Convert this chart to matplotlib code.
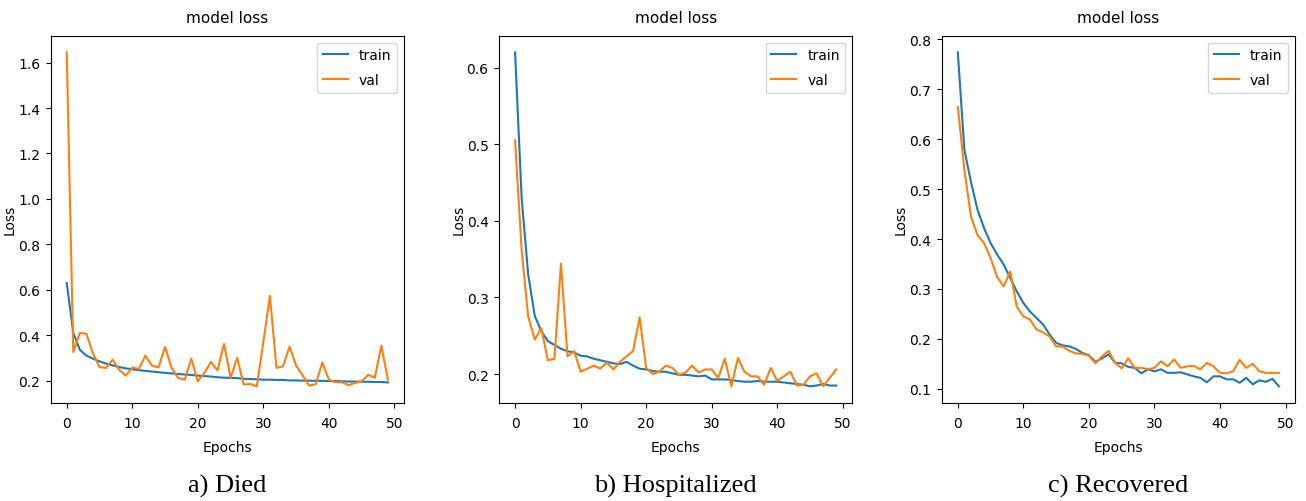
import matplotlib
matplotlib.use('Agg')
from matplotlib import pyplot as plt
import numpy as np

epochs = np.arange(50)

died_train = [0.63, 0.41, 0.336, 0.31, 0.297, 0.285, 0.275, 0.267, 0.26, 0.254,
              0.25, 0.246, 0.243, 0.24, 0.237, 0.234, 0.232, 0.229, 0.227, 0.225,
              0.222, 0.22, 0.218, 0.215, 0.213, 0.212, 0.211, 0.208, 0.207, 0.206,
              0.204, 0.204, 0.203, 0.203, 0.201, 0.201, 0.2, 0.2, 0.199, 0.199,
              0.198, 0.198, 0.197, 0.196, 0.196, 0.195, 0.195, 0.194, 0.194, 0.192]
died_val = [1.645, 0.326, 0.41, 0.406, 0.32, 0.26, 0.256, 0.292, 0.248, 0.222,
            0.258, 0.251, 0.31, 0.266, 0.258, 0.348, 0.256, 0.212, 0.204, 0.297,
            0.197, 0.234, 0.282, 0.245, 0.362, 0.212, 0.3, 0.183, 0.185, 0.175,
            0.37, 0.573, 0.256, 0.263, 0.35, 0.266, 0.222, 0.178, 0.185, 0.28,
            0.204, 0.193, 0.193, 0.18, 0.19, 0.197, 0.226, 0.212, 0.354, 0.204]

hosp_train = [0.62, 0.43, 0.33, 0.276, 0.256, 0.243, 0.238, 0.233, 0.23, 0.228,
              0.224, 0.223, 0.22, 0.218, 0.216, 0.214, 0.213, 0.216, 0.211, 0.207,
              0.206, 0.204, 0.203, 0.203, 0.201, 0.199, 0.199, 0.198, 0.197, 0.198,
              0.193, 0.193, 0.193, 0.192, 0.191, 0.19, 0.19, 0.191, 0.19, 0.19,
              0.19, 0.189, 0.188, 0.187, 0.186, 0.184, 0.185, 0.187, 0.185, 0.185]
hosp_val = [0.505, 0.362, 0.275, 0.245, 0.26, 0.218, 0.22, 0.344, 0.223, 0.23,
            0.203, 0.207, 0.211, 0.207, 0.215, 0.206, 0.216, 0.223, 0.23, 0.274,
            0.208, 0.2, 0.203, 0.211, 0.208, 0.199, 0.202, 0.211, 0.202, 0.206,
            0.206, 0.195, 0.22, 0.184, 0.221, 0.203, 0.197, 0.197, 0.186, 0.208,
            0.191, 0.197, 0.203, 0.185, 0.186, 0.197, 0.201, 0.184, 0.195, 0.206]

rec_train = [0.774, 0.579, 0.515, 0.459, 0.422, 0.392, 0.369, 0.349, 0.322, 0.295,
             0.272, 0.255, 0.242, 0.229, 0.209, 0.192, 0.187, 0.185, 0.18, 0.172,
             0.167, 0.154, 0.161, 0.169, 0.152, 0.151, 0.144, 0.142, 0.131, 0.139,
             0.135, 0.139, 0.132, 0.132, 0.133, 0.129, 0.125, 0.122, 0.113, 0.125,
             0.125, 0.119, 0.119, 0.112, 0.122, 0.109, 0.117, 0.114, 0.12, 0.105]
rec_val = [0.665, 0.539, 0.445, 0.408, 0.392, 0.362, 0.324, 0.305, 0.335, 0.264,
           0.245, 0.239, 0.219, 0.213, 0.205, 0.185, 0.185, 0.176, 0.171, 0.17,
           0.166, 0.151, 0.165, 0.176, 0.152, 0.141, 0.161, 0.142, 0.142, 0.139,
           0.142, 0.155, 0.145, 0.159, 0.142, 0.145, 0.146, 0.139, 0.152, 0.145,
           0.132, 0.131, 0.135, 0.158, 0.142, 0.15, 0.135, 0.132, 0.132, 0.132]

panels = [(died_train, died_val, 'a) Died'),
          (hosp_train, hosp_val, 'b) Hospitalized'),
          (rec_train, rec_val, 'c) Recovered')]
lefts = [0.0388, 0.3821, 0.7211]

fig = plt.figure(figsize=(13.06, 5.02), dpi=100)
for (train, val, caption), left in zip(panels, lefts):
    ax = fig.add_axes([left, 0.1952, 0.2705, 0.7317])
    ax.plot(epochs, train, color='#1f77b4', linewidth=1.5, label='train')
    ax.plot(epochs, val, color='#ff7f0e', linewidth=1.5, label='val')
    ax.set_title('model loss', fontsize=11, pad=10)
    ax.set_xlabel('Epochs', fontsize=10, labelpad=7)
    ax.set_ylabel('Loss', fontsize=10, labelpad=1)
    ax.tick_params(labelsize=10, pad=4)
    ax.tick_params(axis='x', pad=6)
    ax.legend(loc='upper right', fontsize=10, labelspacing=0.8,
              handlelength=1.8)
    fig.text(left + 0.2705 / 2, 0.03, caption, ha='center', va='center',
             fontsize=19, family='Liberation Serif')

plt.savefig('out.png', dpi=100)
